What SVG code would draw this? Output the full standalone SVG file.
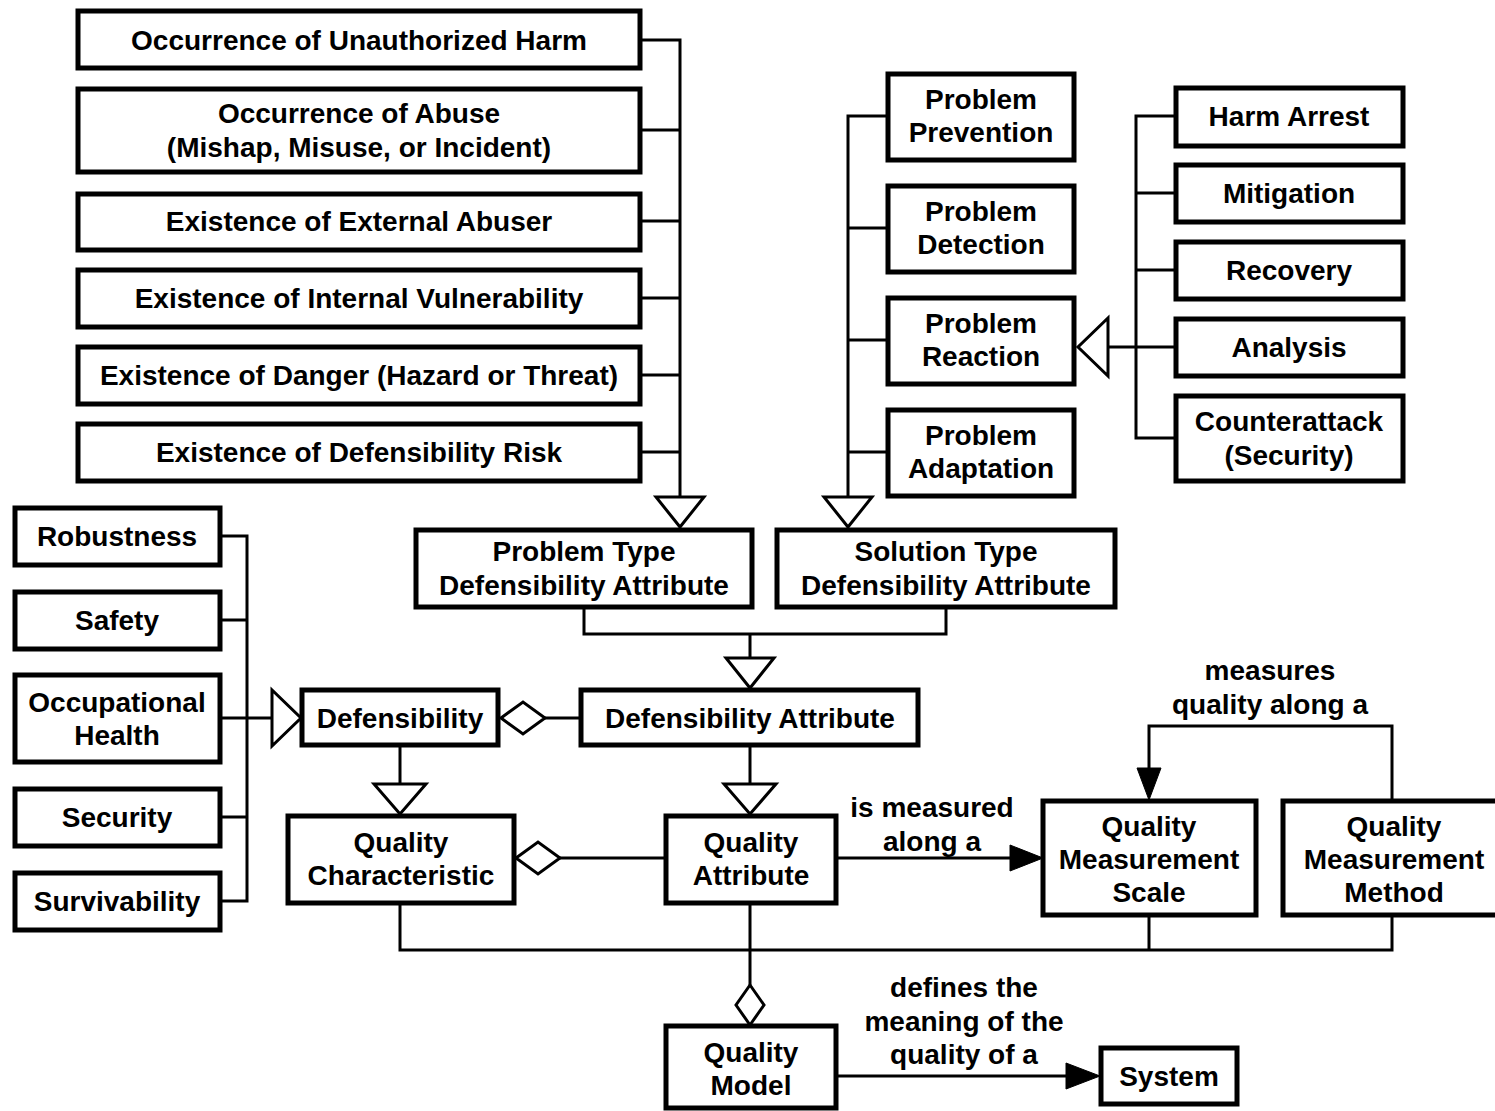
<svg xmlns="http://www.w3.org/2000/svg" width="1495" height="1111" viewBox="0 0 1495 1111">
<style>
rect.b{fill:#fff;stroke:#000;stroke-width:5}
text{font-family:"Liberation Sans",Arial,sans-serif;font-weight:bold;font-size:28px;fill:#000;text-anchor:middle}
.c path,.c line,.c polyline{fill:none;stroke:#000;stroke-width:3}
.c .h{fill:#fff;stroke:#000;stroke-width:3}
.c .f{fill:#000;stroke:#000;stroke-width:1}
</style>
<rect width="1495" height="1111" fill="#fff"/>
<g class="c" id="connectors">
<path d="M640 40H680V497M640 130H680M640 221H680M640 298H680M640 375H680M640 452H680"/>
<polygon class="h" points="656,497 704,497 680,527"/>
<path d="M888 116H848V497M888 228H848M888 340H848M888 452H848"/>
<polygon class="h" points="824,497 872,497 848,527"/>
<path d="M1176 116H1136V438H1176M1176 193H1136M1176 270H1136M1176 347H1108"/>
<polygon class="h" points="1108,318 1108,376 1078,347"/>
<path d="M220 536H247V901H220M220 620H247M220 718H272M220 817H247"/>
<polygon class="h" points="272,690 272,746 301,718"/>
<path d="M584 607V634H946V607M750 634V658"/>
<polygon class="h" points="726,658 774,658 750,688"/>
<path d="M545 718H581"/>
<polygon class="h" points="501,718 523,702 545,718 523,734"/>
<path d="M400 745V784"/>
<polygon class="h" points="374,784 426,784 400,814"/>
<path d="M750 745V784"/>
<polygon class="h" points="724,784 776,784 750,814"/>
<path d="M560 858H666"/>
<polygon class="h" points="516,858 538,842 560,858 538,874"/>
<path d="M836 858H1012"/>
<polygon class="f" points="1010,845 1043,858 1010,871"/>
<path d="M1392 800V726H1149V770"/>
<polygon class="f" points="1137,768 1161,768 1149,800"/>
<path d="M400 903V950H1392V915M750 903V985M1149 915V950"/>
<polygon class="h" points="750,985 764,1005 750,1025 736,1005"/>
<path d="M836 1076H1068"/>
<polygon class="f" points="1066,1063 1100,1076 1066,1089"/>
</g>
<g id="n-unauth"><rect class="b" x="78" y="11" width="562" height="57"/><text x="359" y="50">Occurrence of Unauthorized Harm</text></g>
<g id="n-abuse"><rect class="b" x="78" y="89" width="562" height="83"/><text x="359" y="123">Occurrence of Abuse</text><text x="359" y="157">(Mishap, Misuse, or Incident)</text></g>
<g id="n-external"><rect class="b" x="78" y="194" width="562" height="56"/><text x="359" y="231">Existence of External Abuser</text></g>
<g id="n-internal"><rect class="b" x="78" y="270" width="562" height="57"/><text x="359" y="308">Existence of Internal Vulnerability</text></g>
<g id="n-danger"><rect class="b" x="78" y="347" width="562" height="57"/><text x="359" y="385">Existence of Danger (Hazard or Threat)</text></g>
<g id="n-risk"><rect class="b" x="78" y="424" width="562" height="57"/><text x="359" y="462">Existence of Defensibility Risk</text></g>
<g id="n-prevention"><rect class="b" x="888" y="74" width="186" height="86"/><text x="981" y="109">Problem</text><text x="981" y="142">Prevention</text></g>
<g id="n-detection"><rect class="b" x="888" y="186" width="186" height="86"/><text x="981" y="221">Problem</text><text x="981" y="254">Detection</text></g>
<g id="n-reaction"><rect class="b" x="888" y="298" width="186" height="86"/><text x="981" y="333">Problem</text><text x="981" y="366">Reaction</text></g>
<g id="n-adaptation"><rect class="b" x="888" y="410" width="186" height="86"/><text x="981" y="445">Problem</text><text x="981" y="478">Adaptation</text></g>
<g id="n-harm"><rect class="b" x="1176" y="88" width="227" height="58"/><text x="1289" y="126">Harm Arrest</text></g>
<g id="n-mitigation"><rect class="b" x="1176" y="165" width="227" height="57"/><text x="1289" y="203">Mitigation</text></g>
<g id="n-recovery"><rect class="b" x="1176" y="242" width="227" height="57"/><text x="1289" y="280">Recovery</text></g>
<g id="n-analysis"><rect class="b" x="1176" y="319" width="227" height="57"/><text x="1289" y="357">Analysis</text></g>
<g id="n-counter"><rect class="b" x="1176" y="396" width="227" height="85"/><text x="1289" y="431">Counterattack</text><text x="1289" y="465">(Security)</text></g>
<g id="n-problemtype"><rect class="b" x="416" y="530" width="336" height="77"/><text x="584" y="561">Problem Type</text><text x="584" y="595">Defensibility Attribute</text></g>
<g id="n-solutiontype"><rect class="b" x="777" y="530" width="338" height="77"/><text x="946" y="561">Solution Type</text><text x="946" y="595">Defensibility Attribute</text></g>
<g id="n-robustness"><rect class="b" x="15" y="508" width="205" height="57"/><text x="117" y="546">Robustness</text></g>
<g id="n-safety"><rect class="b" x="15" y="592" width="205" height="57"/><text x="117" y="630">Safety</text></g>
<g id="n-occhealth"><rect class="b" x="15" y="675" width="205" height="87"/><text x="117" y="712">Occupational</text><text x="117" y="745">Health</text></g>
<g id="n-security"><rect class="b" x="15" y="789" width="205" height="57"/><text x="117" y="827">Security</text></g>
<g id="n-survivability"><rect class="b" x="15" y="873" width="205" height="57"/><text x="117" y="911">Survivability</text></g>
<g id="n-defensibility"><rect class="b" x="302" y="690" width="196" height="55"/><text x="400" y="728">Defensibility</text></g>
<g id="n-defattr"><rect class="b" x="581" y="690" width="337" height="55"/><text x="750" y="728">Defensibility Attribute</text></g>
<g id="n-qchar"><rect class="b" x="288" y="816" width="226" height="87"/><text x="401" y="852">Quality</text><text x="401" y="885">Characteristic</text></g>
<g id="n-qattr"><rect class="b" x="666" y="816" width="170" height="87"/><text x="751" y="852">Quality</text><text x="751" y="885">Attribute</text></g>
<g id="n-qscale"><rect class="b" x="1043" y="801" width="213" height="114"/><text x="1149" y="836">Quality</text><text x="1149" y="869">Measurement</text><text x="1149" y="902">Scale</text></g>
<g id="n-qmethod"><rect class="b" x="1283" y="801" width="220" height="114"/><text x="1394" y="836">Quality</text><text x="1394" y="869">Measurement</text><text x="1394" y="902">Method</text></g>
<g id="n-qmodel"><rect class="b" x="666" y="1026" width="170" height="82"/><text x="751" y="1062">Quality</text><text x="751" y="1095">Model</text></g>
<g id="n-system"><rect class="b" x="1101" y="1048" width="136" height="56"/><text x="1169" y="1086">System</text></g>
<g id="labels">
<text x="932" y="817">is measured</text><text x="932" y="851">along a</text>
<text x="1270" y="680">measures</text><text x="1270" y="714">quality along a</text>
<text x="964" y="997">defines the</text><text x="964" y="1031">meaning of the</text><text x="964" y="1064">quality of a</text>
</g>
</svg>
